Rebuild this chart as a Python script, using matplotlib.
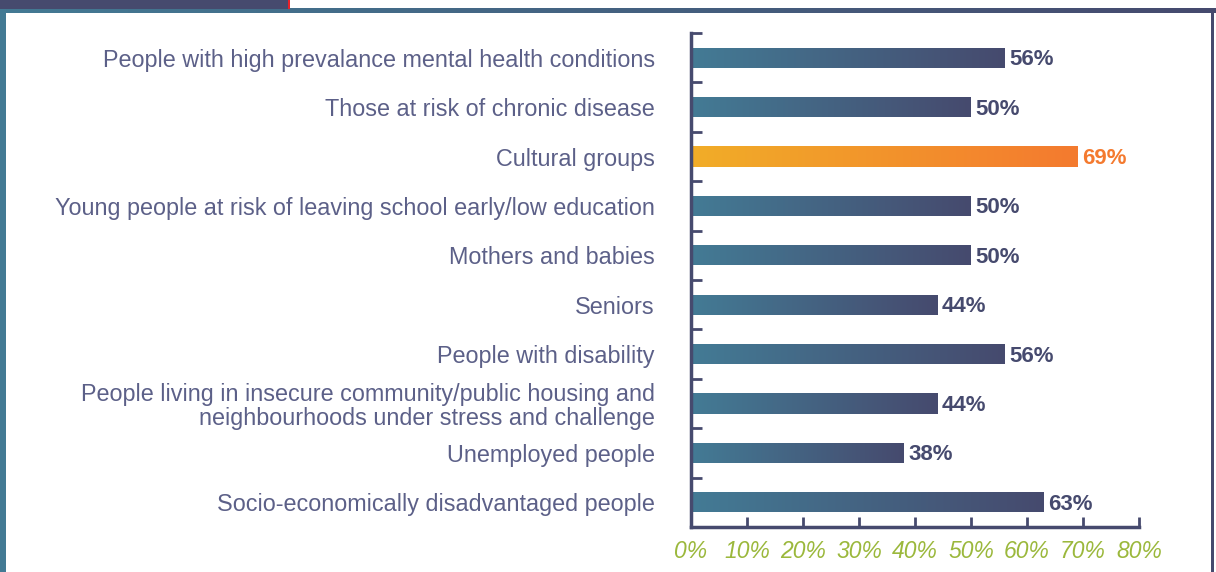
import numpy as np
import matplotlib
matplotlib.use("Agg")
import matplotlib.pyplot as plt
from matplotlib.patches import Rectangle
from matplotlib.colors import LinearSegmentedColormap

categories = [
    "People with high prevalance mental health conditions",
    "Those at risk of chronic disease",
    "Cultural groups",
    "Young people at risk of leaving school early/low education",
    "Mothers and babies",
    "Seniors",
    "People with disability",
    "People living in insecure community/public housing and\nneighbourhoods under stress and challenge",
    "Unemployed people",
    "Socio-economically disadvantaged people",
]
values = [56, 50, 69, 50, 50, 44, 56, 44, 38, 63]
highlight = "Cultural groups"
xticks = [0, 10, 20, 30, 40, 50, 60, 70, 80]
xtick_labels = [f"{t}%" for t in xticks]

W, H = 1216, 572
fig = plt.figure(figsize=(W / 100, H / 100), dpi=100)
fig.patch.set_facecolor("white")

# decorative frame
frame_cmap = LinearSegmentedColormap.from_list("fr", ["#437a94", "#464a6e"])
fig.patches.append(Rectangle((0, 1 - 9 / H), 288 / W, 9 / H, transform=fig.transFigure,
                             facecolor="#464a6e", edgecolor="none", zorder=0))
fig.patches.append(Rectangle((288 / W, 1 - 9 / H), 2 / W, 9 / H, transform=fig.transFigure,
                             facecolor="#e8212a", edgecolor="none", zorder=0))
bgax = fig.add_axes([0, 0, 1, 1 - 8 / H], zorder=-1)
bgax.set_xlim(0, W)
bgax.set_ylim(0, H - 8)
bgax.axis("off")
grad = np.linspace(0, 1, 256).reshape(1, -1)
bgax.imshow(grad, cmap=frame_cmap, extent=[0, W, H - 13, H - 8], aspect="auto")
bgax.add_patch(Rectangle((0, 0), 6, H - 8, facecolor="#437a94", edgecolor="none"))
bgax.add_patch(Rectangle((1211, 0), 3, H - 8, facecolor="#464a6e", edgecolor="none"))

ax = fig.add_axes([691 / W, 1 - 527 / H, (1139 - 691) / W, (527 - 33) / H])
ax.set_facecolor("none")
y = np.arange(len(categories))
bars = ax.barh(y, values, height=0.41, color="none", edgecolor="none")

blue_cmap = LinearSegmentedColormap.from_list("b", ["#437b95", "#464a6e"])
orange_cmap = LinearSegmentedColormap.from_list("o", ["#f1ad28", "#f47a2f"])
for cat, v, b in zip(categories, values, bars):
    cm = orange_cmap if cat == highlight else blue_cmap
    x0, y0 = b.get_x(), b.get_y()
    im = ax.imshow(grad, cmap=cm, extent=[x0, x0 + b.get_width(), y0, y0 + b.get_height()],
                   aspect="auto", zorder=2)
    im.set_clip_path(b)
    col = "#f47a2f" if cat == highlight else "#464a6e"
    ax.text(v + 0.8, y0 + b.get_height() / 2 + 0.04, f"{v}%", va="center", ha="left",
            fontsize=16, fontweight="bold", color=col, family="Liberation Sans")

ax.set_xlim(0, 80)
ax.set_ylim(len(categories) - 0.5, -0.5)
ax.set_yticks(y)
ax.set_yticklabels(categories, fontsize=16.8, color="#5c6088", family="Liberation Sans",
                   linespacing=1.06)
ax.tick_params(axis="y", length=0, pad=26)
ax.set_yticks(np.arange(-0.5, len(categories), 1), minor=True)
ax.tick_params(axis="y", which="minor", direction="in", length=8, width=2, color="#464a6e")
ax.set_xticks(xticks)
ax.set_xticklabels(xtick_labels, fontsize=16.5, color="#9bb83c", style="italic",
                   family="Liberation Sans")
ax.tick_params(axis="x", direction="in", length=7, width=2, color="#464a6e", pad=9)
for s in ["top", "right"]:
    ax.spines[s].set_visible(False)
for s in ["left", "bottom"]:
    ax.spines[s].set_color("#464a6e")
    ax.spines[s].set_linewidth(2.5)
for lbl in ax.get_yticklabels():
    lbl.set_multialignment("right")

fig.savefig("out.png", dpi=100)
